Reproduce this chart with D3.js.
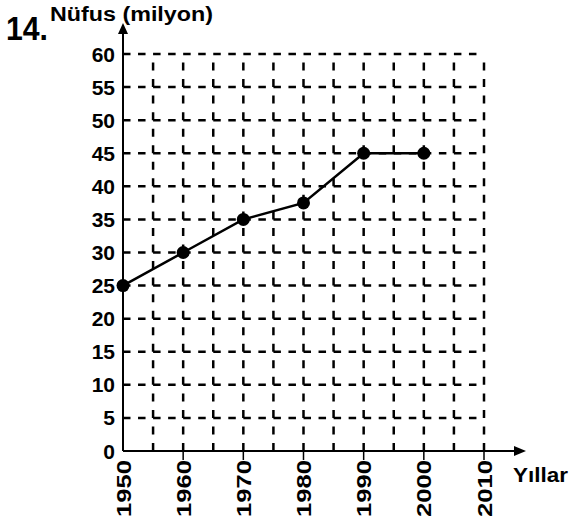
<!DOCTYPE html>
<html>
<head>
<meta charset="utf-8">
<script src="https://d3js.org/d3.v7.min.js"></script>
<style>
  body { margin: 0; background: #fff; }
  text { font-family: "Liberation Sans", Arial, sans-serif; font-weight: bold; fill: #000; }
</style>
</head>
<body>
<div id="chart"></div>
<script>
var years = [1950, 1960, 1970, 1980, 1990, 2000];
var population = [25, 30, 35, 37.5, 45, 45];
var yearTicks = [1950, 1960, 1970, 1980, 1990, 2000, 2010];
var valueTicks = [0, 5, 10, 15, 20, 25, 30, 35, 40, 45, 50, 55, 60];

var width = 571, height = 522;
var plotLeft = 123, plotRight = 484, plotTop = 54, plotBottom = 451;

var svg = d3.select("#chart").append("svg")
    .attr("width", width)
    .attr("height", height);

var x = d3.scaleLinear().domain([1950, 2010]).range([plotLeft, plotRight]);
var y = d3.scaleLinear().domain([0, 60]).range([plotBottom, plotTop]);

// grid: two dashes per cell, each dash starting at a grid crossing
var periodX = (x(1955) - x(1950)) / 2;
var periodY = (y(0) - y(5)) / 2;
var gridX = d3.range(1955, 2011, 5);
svg.append("g").selectAll("line")
    .data(gridX)
    .enter().append("line")
    .attr("x1", d => x(d)).attr("x2", d => x(d))
    .attr("y1", y(0)).attr("y2", y(60))
    .attr("stroke", "#000")
    .attr("stroke-width", 2.5)
    .attr("stroke-dasharray", "8," + (periodY - 8));

svg.append("g").selectAll("line")
    .data(valueTicks.filter(d => d > 0))
    .enter().append("line")
    .attr("x1", x(1950)).attr("x2", x(2010))
    .attr("y1", d => y(d)).attr("y2", d => y(d))
    .attr("stroke", "#000")
    .attr("stroke-width", 2.5)
    .attr("stroke-dasharray", "7.5," + (periodX - 7.5));

// axes
svg.append("line")
    .attr("x1", x(1950)).attr("x2", 518)
    .attr("y1", y(0)).attr("y2", y(0))
    .attr("stroke", "#000").attr("stroke-width", 2);
svg.append("path")
    .attr("d", "M526," + y(0) + " L514," + (y(0) - 5) + " L514," + (y(0) + 5) + " Z")
    .attr("fill", "#000");

svg.append("line")
    .attr("x1", x(1950)).attr("x2", x(1950))
    .attr("y1", y(0)).attr("y2", 30)
    .attr("stroke", "#000").attr("stroke-width", 2);
svg.append("path")
    .attr("d", "M" + x(1950) + ",23 L" + (x(1950) - 5) + ",34 L" + (x(1950) + 5) + ",34 Z")
    .attr("fill", "#000");

// x ticks
svg.append("g").selectAll("line")
    .data(yearTicks.slice(1))
    .enter().append("line")
    .attr("x1", d => x(d)).attr("x2", d => x(d))
    .attr("y1", y(0)).attr("y2", y(0) + 9)
    .attr("stroke", "#000").attr("stroke-width", 1.5);

svg.append("g").selectAll("text")
    .data(yearTicks)
    .enter().append("text")
    .attr("transform", d => "translate(" + (x(d) + 7.5) + "," + (y(0) + 9) + ") rotate(-90)")
    .attr("text-anchor", "end")
    .attr("font-size", 21)
    .attr("textLength", 57)
    .attr("lengthAdjust", "spacingAndGlyphs")
    .text(d => d);

// y labels
svg.append("g").selectAll("text")
    .data(valueTicks)
    .enter().append("text")
    .attr("x", plotLeft - 8)
    .attr("y", d => y(d) + 7.5)
    .attr("text-anchor", "end")
    .attr("font-size", 21)
    .text(d => d);

// line and points
var line = d3.line()
    .x((d, i) => x(years[i]))
    .y(d => y(d));

svg.append("path")
    .datum(population)
    .attr("d", line)
    .attr("fill", "none")
    .attr("stroke", "#000")
    .attr("stroke-width", 2.5);

svg.append("g").selectAll("circle")
    .data(population)
    .enter().append("circle")
    .attr("cx", (d, i) => x(years[i]))
    .attr("cy", d => y(d))
    .attr("r", 6.5)
    .attr("fill", "#000");

// titles
svg.append("text")
    .attr("x", 6).attr("y", 40)
    .attr("font-size", 34)
    .attr("textLength", 42)
    .attr("lengthAdjust", "spacingAndGlyphs")
    .text("14.");
svg.append("text")
    .attr("x", 50).attr("y", 21)
    .attr("font-size", 20)
    .attr("textLength", 163)
    .attr("lengthAdjust", "spacingAndGlyphs")
    .text("Nüfus (milyon)");
svg.append("text")
    .attr("x", 513).attr("y", 482)
    .attr("font-size", 20)
    .attr("textLength", 55)
    .attr("lengthAdjust", "spacingAndGlyphs")
    .text("Yıllar");
</script>
</body>
</html>
